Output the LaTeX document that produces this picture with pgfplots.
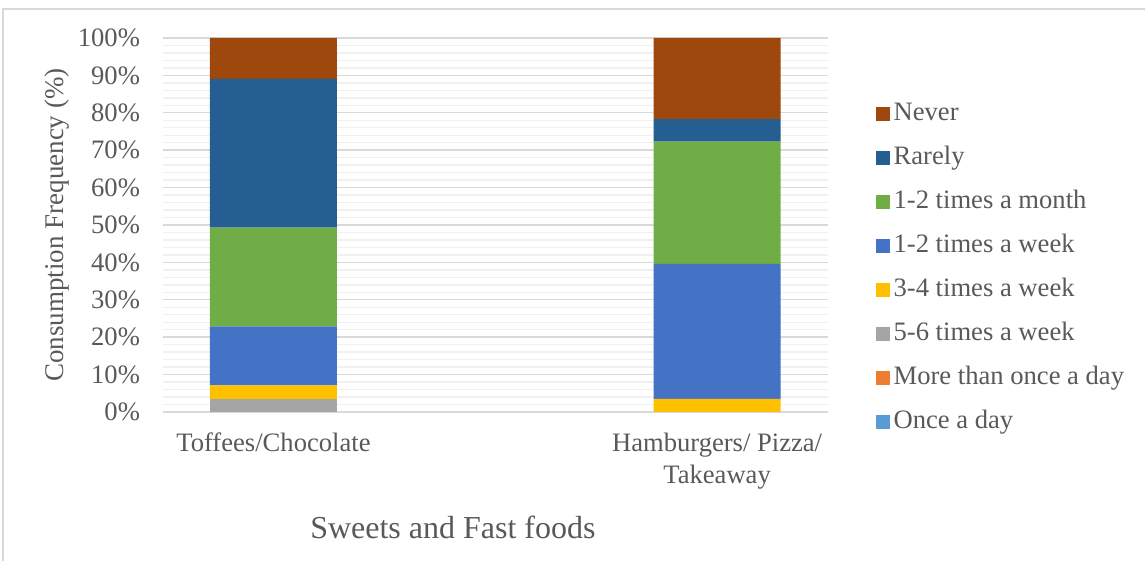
\documentclass[border=0pt]{standalone}
\usepackage{pgfplots}
\pgfplotsset{compat=1.18}
\usepackage{fontspec}
\setmainfont{Liberation Serif}
\definecolor{txt}{HTML}{595959}
\definecolor{cNever}{HTML}{9E480E}
\definecolor{cRarely}{HTML}{255E91}
\definecolor{cMonth}{HTML}{70AD47}
\definecolor{cWeek}{HTML}{4472C4}
\definecolor{cThree}{HTML}{FFC000}
\definecolor{cFive}{HTML}{A5A5A5}
\definecolor{cMore}{HTML}{ED7D31}
\definecolor{cOnce}{HTML}{5B9BD5}
\begin{document}
\begin{tikzpicture}
\path[use as bounding box] (0,0) rectangle (572.5pt,280.5pt);
\draw[draw=black!15, line width=0.6pt] (1.5pt,0) -- (1.5pt,276pt) -- (572.5pt,276pt);
\begin{axis}[
  at={(81.5pt,74.5pt)}, anchor=south west,
  scale only axis, width=332.5pt, height=187pt,
  ybar stacked, bar width=63.5pt,
  xmin=-0.249, xmax=1.25, ymin=0, ymax=100,
  xtick={0,1},
  xticklabels={Toffees/Chocolate,{Hamburgers/ Pizza/\\Takeaway}},
  ytick={0,10,...,100},
  minor ytick={2,4,6,8,12,14,16,18,22,24,26,28,32,34,36,38,42,44,46,48,52,54,56,58,62,64,66,68,72,74,76,78,82,84,86,88,92,94,96,98},
  yticklabel={\pgfmathprintnumber{\tick}\%},
  /pgf/number format/assume math mode=true,
  ymajorgrids, yminorgrids,
  major grid style={draw=black!15, line width=0.7pt},
  minor grid style={draw=black!6, line width=0.7pt},
  axis line style={draw=none},
  major tick length=0pt, minor tick length=0pt,
  tick label style={font=\fontsize{13.3}{16}\selectfont, text=txt},
  yticklabel style={xshift=-8pt},
  xticklabel style={align=center, yshift=-7pt},
  ylabel={Consumption Frequency (\%)},
  ylabel style={font=\fontsize{13.5}{16}\selectfont, text=txt, at={(axis description cs:-0.159,0.5)}, anchor=center, rotate=0},
  xlabel={Sweets and Fast foods},
  xlabel style={font=\fontsize{16}{19}\selectfont, text=txt, at={(axis description cs:0.436,0)}, anchor=center, yshift=-57.5pt},
  legend style={at={(rel axis cs:1.062,0.846)}, anchor=north west, draw=none, fill=none,
    font=\fontsize{13.3}{16}\selectfont, text=txt,
    row sep=8pt, nodes={inner ysep=1pt, inner xsep=2pt, text height=9.5pt, text depth=2.5pt}},
  legend cell align=left,
  reverse legend,
  legend image code/.code={\fill[#1] (0pt,-3.5pt) rectangle (7pt,3.5pt);},
]
\addplot[fill=cOnce, draw=none] coordinates {(0,0) (1,0)};
\addlegendentry{Once a day}
\addplot[fill=cMore, draw=none] coordinates {(0,0) (1,0)};
\addlegendentry{More than once a day}
\addplot[fill=cFive, draw=none] coordinates {(0,3.5) (1,0)};
\addlegendentry{5-6 times a week}
\addplot[fill=cThree, draw=none] coordinates {(0,3.6) (1,3.5)};
\addlegendentry{3-4 times a week}
\addplot[fill=cWeek, draw=none] coordinates {(0,15.8) (1,36.1)};
\addlegendentry{1-2 times a week}
\addplot[fill=cMonth, draw=none] coordinates {(0,26.4) (1,32.7)};
\addlegendentry{1-2 times a month}
\addplot[fill=cRarely, draw=none] coordinates {(0,39.8) (1,6.0)};
\addlegendentry{Rarely}
\addplot[fill=cNever, draw=none] coordinates {(0,10.9) (1,21.7)};
\addlegendentry{Never}
\end{axis}
\end{tikzpicture}
\end{document}
